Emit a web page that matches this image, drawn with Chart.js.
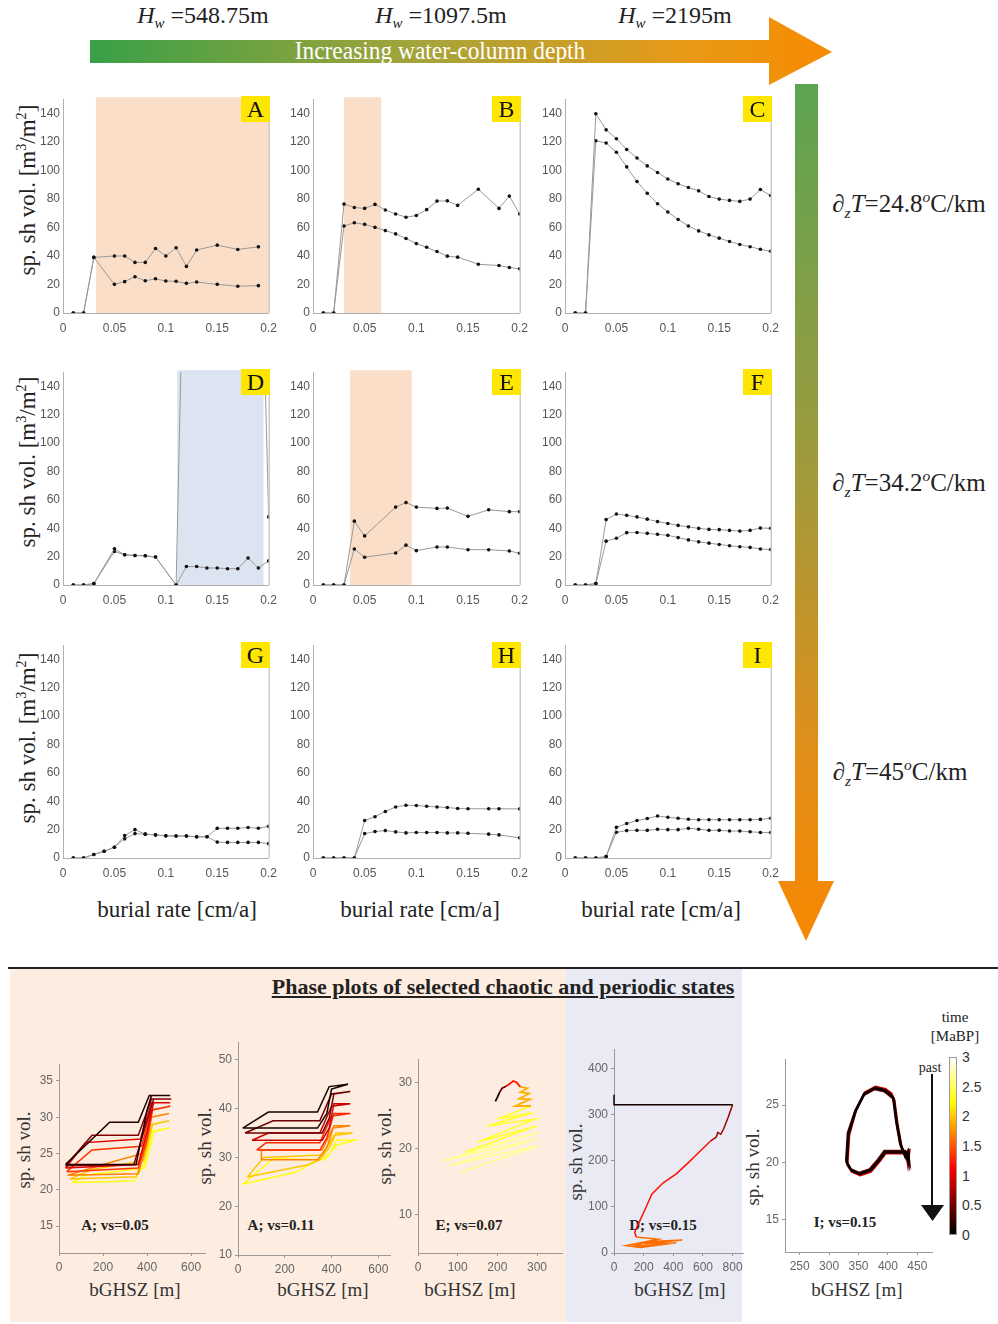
<!DOCTYPE html>
<html>
<head>
<meta charset="utf-8">
<script src="https://cdn.jsdelivr.net/npm/chart.js@4"></script>
<style>
  body { margin: 0; background: #fff; }
  #page { position: relative; width: 998px; height: 1324px; overflow: hidden; background: #fff; }
  canvas { position: absolute; }
  .t { position: absolute; transform: translate(-50%, -50%); white-space: nowrap; font-family: "Liberation Serif", serif; color: #222; }
  .big { font-size: 23px; }
  .rot { transform: translate(-50%, -50%) rotate(-90deg); }
  .lbl { position: absolute; width: 29px; height: 26px; background: #ffe600; font: 24px "Liberation Serif", serif; color: #111; text-align: center; line-height: 27px; }
  .ann { font-weight: bold; font-size: 15px; color: #222; }
  .ph { font-size: 19px; color: #333; }
  .cb { position: absolute; font: 14px "Liberation Sans", sans-serif; color: #333; transform: translateY(-50%); }
  sub, sup { font-size: 62%; }
</style>
</head>
<body>
<div id="page">
  <!-- top arrow -->
  <div style="position:absolute;left:90px;top:17px;width:742px;height:68px;
       clip-path:polygon(0 23px,679px 23px,679px 0,742px 35px,679px 68px,679px 46px,0 46px);
       background:linear-gradient(to right,#38a048 0%,#a7a43a 45%,#e79a18 80%,#f78a00 100%);"></div>
  <div class="t" style="left:440px;top:51px;font-size:26px;color:#fff;transform:translate(-50%,-50%) scaleX(0.9);">Increasing water-column depth</div>
  <div class="t" style="left:203px;top:17px;font-size:24px;"><i>H</i><sub><i>w</i></sub>&nbsp;=548.75m</div>
  <div class="t" style="left:441px;top:17px;font-size:24px;"><i>H</i><sub><i>w</i></sub>&nbsp;=1097.5m</div>
  <div class="t" style="left:675px;top:17px;font-size:24px;"><i>H</i><sub><i>w</i></sub>&nbsp;=2195m</div>

  <!-- right arrow -->
  <div style="position:absolute;left:778px;top:84px;width:56px;height:857px;
       clip-path:polygon(17px 0,40px 0,40px 797px,56px 797px,28px 857px,0 797px,17px 797px);
       background:linear-gradient(to bottom,#5ca452 0%,#a09a3c 45%,#e48e18 80%,#f78800 100%);"></div>
  <div class="t" style="left:909px;top:205px;font-size:25px;"><i>∂</i><sub><i>z</i></sub><i>T</i>=24.8<sup><i>o</i></sup>C/km</div>
  <div class="t" style="left:909px;top:484px;font-size:25px;"><i>∂</i><sub><i>z</i></sub><i>T</i>=34.2<sup><i>o</i></sup>C/km</div>
  <div class="t" style="left:900px;top:773px;font-size:25px;"><i>∂</i><sub><i>z</i></sub><i>T</i>=45<sup><i>o</i></sup>C/km</div>

  <!-- axis titles of grid -->
  <div class="t big rot" style="left:27px;top:190px;">sp. sh vol. [m<sup>3</sup>/m<sup>2</sup>]</div>
  <div class="t big rot" style="left:27px;top:462px;">sp. sh vol. [m<sup>3</sup>/m<sup>2</sup>]</div>
  <div class="t big rot" style="left:27px;top:738px;">sp. sh vol. [m<sup>3</sup>/m<sup>2</sup>]</div>
  <div class="t big" style="left:177px;top:910px;">burial rate [cm/a]</div>
  <div class="t big" style="left:420px;top:910px;">burial rate [cm/a]</div>
  <div class="t big" style="left:661px;top:910px;">burial rate [cm/a]</div>

  <!-- bottom section -->
  <div style="position:absolute;left:10px;top:969px;width:556px;height:353px;background:#fdece0;"></div>
  <div style="position:absolute;left:566px;top:969px;width:176px;height:353px;background:#e9eaf3;"></div>
  <div style="position:absolute;left:8px;top:967px;width:990px;height:2px;background:#222;"></div>
  <div class="t" style="left:503px;top:987px;font-size:22px;font-weight:bold;text-decoration:underline;">Phase plots of selected chaotic and periodic states</div>

  <div class="t ph rot" style="left:24px;top:1150px;">sp. sh vol.</div>
  <div class="t ph rot" style="left:205px;top:1146px;">sp. sh vol.</div>
  <div class="t ph rot" style="left:385px;top:1146px;">sp. sh vol.</div>
  <div class="t ph rot" style="left:576px;top:1162px;">sp. sh vol.</div>
  <div class="t ph rot" style="left:753px;top:1167px;">sp. sh vol.</div>
  <div class="t ph" style="left:135px;top:1290px;">bGHSZ [m]</div>
  <div class="t ph" style="left:323px;top:1290px;">bGHSZ [m]</div>
  <div class="t ph" style="left:470px;top:1290px;">bGHSZ [m]</div>
  <div class="t ph" style="left:680px;top:1290px;">bGHSZ [m]</div>
  <div class="t ph" style="left:857px;top:1290px;">bGHSZ [m]</div>

  <div class="t ann" style="left:115px;top:1225px;">A; vs=0.05</div>
  <div class="t ann" style="left:281px;top:1225px;">A; vs=0.11</div>
  <div class="t ann" style="left:469px;top:1225px;">E; vs=0.07</div>
  <div class="t ann" style="left:663px;top:1225px;">D; vs=0.15</div>
  <div class="t ann" style="left:845px;top:1222px;">I; vs=0.15</div>

  <!-- colour bar -->
  <div class="t" style="left:955px;top:1017px;font-size:15px;">time</div>
  <div class="t" style="left:955px;top:1036px;font-size:15px;">[MaBP]</div>
  <div class="t" style="left:930px;top:1068px;font-size:14px;">past</div>
  <div style="position:absolute;left:931px;top:1074px;width:2px;height:134px;background:#111;"></div>
  <div style="position:absolute;left:921px;top:1205px;width:23px;height:16px;background:#111;clip-path:polygon(0 0,100% 0,50% 100%);"></div>
  <div style="position:absolute;left:949px;top:1057px;width:8px;height:178px;border:1px solid #999;box-sizing:border-box;
       background:linear-gradient(to top,#000 0%,#f00 37.5%,#ff0 75%,#fff 100%);"></div>
  <div id="cbticks"></div>

  <canvas id="pA"></canvas><canvas id="pB"></canvas><canvas id="pC"></canvas>
  <canvas id="pD"></canvas><canvas id="pE"></canvas><canvas id="pF"></canvas>
  <canvas id="pG"></canvas><canvas id="pH"></canvas><canvas id="pI"></canvas>
  <canvas id="ph1"></canvas><canvas id="ph2"></canvas><canvas id="ph3"></canvas>
  <canvas id="ph4"></canvas><canvas id="ph5"></canvas>
</div>

<script>
// burial rates [cm/a]
const xs = [0.01,0.02,0.03,0.04,0.05,0.06,0.07,0.08,0.09,0.1,0.11,0.12,0.13,0.14,0.15,0.16,0.17,0.18,0.19,0.2];
const xTickVals = [0, 0.05, 0.1, 0.15, 0.2];
const yTickVals = [0, 20, 40, 60, 80, 100, 120, 140];

// sp. sh vol. [m3/m2], upper and lower branch for each panel
const A_up = [0,0,39,null,40,40,35.5,35.5,45.3,40,45.8,32.7,44.2,null,47.6,null,44.6,null,46.4,null];
const A_lo = [0,0,39,null,20.1,22,25.4,22.6,24,22.4,22.2,20.8,21.7,null,20.1,null,18.8,null,19.2,null];
const B_up = [0,0,76.4,74,73.4,76.2,72.3,69.5,67.2,68.4,72.5,78.5,78.7,75.5,null,86.8,null,73.4,82,69.5];
const B_lo = [0,0,61,63.3,62.2,60.1,57.8,55.5,52.3,48.7,46.1,43.1,39.9,39.2,null,34.2,null,33.3,31.9,31];
const C_up = [0,0,139.8,128.5,122.3,114.7,108.7,103.2,98.6,94,90.7,88,85.7,81.7,79.9,79,78.3,79.9,86.6,82.4];
const C_lo = [0,0,120.9,119.3,112.8,102.5,92.3,84,76.7,70.9,65.6,61,57.6,54.8,52.5,50.2,48.1,46.5,44.7,43.3];
const D_up = [0,0,1,null,25.5,21.3,20.8,20.6,19.7,null,0,330,330,330,330,330,330,330,330,48];
const D_lo = [0,0,1,null,23.6,21.3,20.8,20.6,19.7,null,0,13,13,12,12,11.5,11.5,19,12,17];
const E_up = [0,0,0,45,34.6,null,null,54.9,58.1,54.9,null,54,54.2,null,48.4,null,53,null,51.7,51.7];
const E_lo = [0,0,0,25.4,19.6,null,null,22.6,28.1,24.2,null,26.8,26.8,null,24.9,null,24.9,null,24,22.4];
const F_up = [0,0,1,46.1,50,49.1,48,46.4,44.7,43.4,42,41,39.9,39.2,39,38.5,38,38.5,40.1,40];
const F_lo = [0,0,1,30.9,33,36.9,37,36.4,35.7,35,33.4,31.8,30.4,29.5,28.6,27.7,27,26.5,25.4,25];
const G_up = [0,0,2.5,4.8,7.6,15.8,20,16.8,16.3,15.6,15.5,15.5,14.9,15,20.9,21,21,21.5,21,22.3];
const G_lo = [0,0,2.5,4.8,7.6,13.5,17.2,16.8,16.3,15.6,15.5,15.5,14.9,15,11.2,11,11,11,11,10.1];
const H_up = [0,0,0,0,26.4,29.1,32.8,36,37.2,37,36.5,36,35.6,34.9,34.7,null,34.7,34.7,null,34.6];
const H_lo = [0,0,0,0,17.2,18.6,19.3,18.4,17.7,18,18,18,17.7,17.7,17.4,null,16.8,16.3,null,14.2];
const I_up = [0,0,0,1,21.6,24.3,26.4,27.8,29.6,28.7,28,27.3,27,27,27,27,27,27,27.2,28];
const I_lo = [0,0,0,1,18.1,19.3,19.5,19.5,20.2,20,20,20.9,20.3,19.5,19.5,19,19,18.5,18,18];

// shaded burial-rate ranges
const A_shade = [0.032, 0.2];
const B_shade = [0.030, 0.066];
const D_shade = [0.111, 0.195];
const E_shade = [0.036, 0.0955];

// phase plots: strokes of [bGHSZ, sp. sh vol.] with time t [MaBP]
const phaseA05 = [
  {t: 2.3, pts: [[60,21],[340,21.2],[395,24],[420,28],[500,28.5],[430,28],[390,23],[120,22],[60,21]]},
  {t: 2.0, pts: [[50,21.5],[350,21.8],[390,25],[420,29],[500,29.5],[425,29],[385,24],[150,22.8],[50,21.5]]},
  {t: 1.7, pts: [[40,22],[360,22.2],[395,26],[420,30],[500,30.5],[420,30],[380,25],[200,23.5],[40,22]]},
  {t: 1.35, pts: [[35,22.5],[360,23],[400,27],[425,31],[505,31.5],[420,31],[375,26],[150,25.5],[35,22.5]]},
  {t: 1.0, pts: [[30,23],[360,23.5],[400,28],[430,32],[505,32],[420,32],[370,27],[120,26.5],[30,23]]},
  {t: 0.6, pts: [[30,23.3],[340,23.5],[395,29],[430,32.5],[510,32.5],[420,32.5],[360,27.5],[150,27.5],[30,23.3]]},
  {t: 0.15, pts: [[30,23.5],[350,23.5],[400,31],[420,33],[505,33],[410,33],[360,29.3],[230,29.3],[30,23.5]]}
];
const phaseA11 = [
  {t: 2.3, pts: [[20,24.5],[250,27],[340,29.5],[390,30.5],[420,33.5],[500,33.5],[420,32.5],[370,29.5],[150,29.7],[20,24.5]]},
  {t: 2.0, pts: [[40,26],[300,28.5],[350,29.5],[390,32],[420,35],[490,35],[410,34.5],[360,30.5],[110,30],[40,26]]},
  {t: 1.7, pts: [[100,29.5],[340,29.5],[380,32],[410,36.5],[480,36.5],[405,36],[360,31.5],[100,31.5],[100,29.5]]},
  {t: 1.3, pts: [[80,31.5],[350,31.5],[380,34],[410,39],[480,39],[400,38.5],[350,33],[120,33],[80,31.5]]},
  {t: 0.9, pts: [[60,33.5],[360,33.5],[390,36],[410,41],[480,41],[400,40.5],[350,35],[130,35],[60,33.5]]},
  {t: 0.5, pts: [[30,35],[360,35],[390,38],[410,43],[480,43.5],[400,43],[350,37.5],[150,37.5],[30,35]]},
  {t: 0.1, pts: [[20,36],[340,36],[380,39],[400,44],[470,45],[390,44.5],[340,39.3],[130,39.3],[20,36]]}
];
const phaseE07 = [
  {t: 2.7, pts: [[110,16.5],[305,20.5],[80,17.5],[300,21.5],[65,18.2],[305,22.5],[120,19.5]]},
  {t: 2.4, pts: [[120,19.5],[300,23.5],[150,21],[295,24.5],[175,23.5],[290,25.5],[200,24.5],[285,26.5]]},
  {t: 1.9, pts: [[285,26.5],[245,26.5],[282,27.5],[255,27.6],[280,28.4],[258,28.6],[276,29.2],[258,29.4]]},
  {t: 1.2, pts: [[258,29.4],[248,30.1],[240,30.3],[232,29.9],[222,29.5]]},
  {t: 0.5, pts: [[222,29.5],[212,29.2],[206,28.6]]},
  {t: 0.1, pts: [[206,28.6],[200,27.8],[195,27.2]]}
];
const phaseD15 = [
  {t: 1.6, pts: [[300,18],[120,14],[250,25],[460,28],[200,20],[420,22],[180,12],[80,16],[300,30],[150,35]]},
  {t: 1.2, pts: [[150,35],[140,45],[160,60],[210,95],[255,128],[330,152],[420,172],[500,196],[580,221],[650,243]]},
  {t: 0.7, pts: [[650,243],[690,252],[700,262],[720,258],[740,270],[770,295],[800,322]]},
  {t: 0.1, pts: [[800,322],[0,322],[0,344]]}
];
const phaseI15 = [
  {t: 0.9, pts: [[331,19.8],[334,22.4],[346,24.6],[361,26.1],[379,26.6],[396,26.4],[406,26],[411,25.4],[416,23.4],[423,21.4],[431,20.4],[436,20.8],[434,19.9],[431,20.8],[396,20.8],[386,20.1],[371,19.2],[353,18.9],[339,19.2],[331,19.8]]},
  {t: 0.4, pts: [[329,20.1],[332,22.6],[344,24.4],[359,25.9],[377,26.4],[394,26.2],[404,25.8],[409,25.6],[414,23.6],[421,21.6],[429,20.6],[434,21],[436,20.1],[429,21],[394,21],[384,20.3],[369,19.4],[351,19.1],[337,19.4],[329,20.1]]},
  {t: 0.05, pts: [[330,20],[333,22.5],[345,24.5],[360,26],[378,26.5],[395,26.3],[405,25.9],[410,25.5],[415,23.5],[422,21.5],[430,20.5],[435,20.9],[435,20],[430,20.9],[395,20.9],[385,20.2],[370,19.3],[352,19],[338,19.3],[330,20]]}
];
const cbTicks = [3, 2.5, 2, 1.5, 1, 0.5, 0];

function hot(t) {
  const v = Math.max(0, Math.min(1, t / 3));
  const r = Math.min(1, v / 0.375);
  const g = Math.max(0, Math.min(1, (v - 0.375) / 0.375));
  const b = Math.max(0, (v - 0.75) / 0.25);
  return `rgb(${Math.round(r * 255)},${Math.round(g * 255)},${Math.round(b * 255)})`;
}

const shadePlugin = {
  id: "shade",
  beforeDraw(chart, args, opts) {
    if (!opts.range) return;
    const { ctx, chartArea } = chart;
    const xsc = chart.scales.x;
    const x0 = xsc.getPixelForValue(opts.range[0]);
    const x1 = xsc.getPixelForValue(opts.range[1]);
    ctx.save();
    ctx.fillStyle = opts.color;
    ctx.fillRect(x0, chartArea.top - 2, x1 - x0, chartArea.bottom - chartArea.top + 2);
    ctx.restore();
  },
  afterDatasetsDraw(chart, args, opts) {
    if (!opts.frame) return;
    const { ctx, chartArea } = chart;
    ctx.save();
    ctx.strokeStyle = "#b0b0b0";
    ctx.lineWidth = 1;
    ctx.beginPath();
    ctx.moveTo(chartArea.right + 0.5, chartArea.top);
    ctx.lineTo(chartArea.right + 0.5, chartArea.bottom);
    ctx.stroke();
    ctx.restore();
  }
};

const fmt = v => String(Number(v.toFixed(2)));

function place(cv, left, top, w, h, YW, XH, PT, PR) {
  cv.width = w + YW + PR;
  cv.height = h + PT + XH;
  cv.style.left = (left - YW) + "px";
  cv.style.top = (top - PT) + "px";
}

function panel(id, letter, left, top, w, h, up, lo, shade, shadeColor) {
  const cv = document.getElementById(id);
  place(cv, left, top, w, h, 34, 24, 6, 14);
  const mk = arr => ({
    data: xs.map((x, i) => ({ x: x, y: arr[i] })),
    borderColor: "#999", borderWidth: 1,
    pointRadius: 1.8, pointBackgroundColor: "#111", pointBorderWidth: 0,
    spanGaps: true, tension: 0
  });
  new Chart(cv, {
    type: "line",
    data: { datasets: [mk(up), mk(lo)] },
    options: {
      responsive: false, animation: false,
      layout: { padding: { top: 6, right: 14, left: 0, bottom: 0 } },
      plugins: { legend: { display: false }, tooltip: { enabled: false },
        shade: { range: shade, color: shadeColor, frame: true } },
      scales: {
        x: { type: "linear", min: 0, max: 0.2,
          afterBuildTicks: s => { s.ticks = xTickVals.map(v => ({ value: v })); },
          afterFit: s => { s.height = 24; },
          grid: { display: true, drawOnChartArea: false, drawTicks: false },
          border: { color: "#b0b0b0" },
          ticks: { padding: 8, color: "#555", font: { family: "Liberation Sans", size: 12 }, callback: v => fmt(v), maxRotation: 0 } },
        y: { min: 0, max: 150,
          afterBuildTicks: s => { s.ticks = yTickVals.map(v => ({ value: v })); },
          afterFit: s => { s.width = 34; },
          grid: { display: true, drawOnChartArea: false, drawTicks: false },
          border: { color: "#b0b0b0" },
          ticks: { padding: 3, color: "#555", font: { family: "Liberation Sans", size: 12 } } }
      }
    },
    plugins: [shadePlugin]
  });
  const d = document.createElement("div");
  d.className = "lbl";
  d.textContent = letter;
  d.style.left = (left + w - 30) + "px";
  d.style.top = (top + 1) + "px";
  document.getElementById("page").appendChild(d);
}

function phase(id, left, top, w, h, strokes, xr, yr, xt, yt, lw) {
  const cv = document.getElementById(id);
  place(cv, left, top, w, h, 30, 22, 8, 14);
  new Chart(cv, {
    type: "scatter",
    data: { datasets: strokes.map(s => ({
      data: s.pts.map(p => ({ x: p[0], y: p[1] })),
      showLine: true, borderColor: hot(s.t), borderWidth: lw,
      pointRadius: 0, tension: 0, order: s.t, clip: 4
    })) },
    options: {
      responsive: false, animation: false,
      layout: { padding: { top: 8, right: 14, left: 0, bottom: 0 } },
      plugins: { legend: { display: false }, tooltip: { enabled: false } },
      scales: {
        x: { type: "linear", min: xr[0], max: xr[1],
          afterBuildTicks: s => { s.ticks = xt.map(v => ({ value: v })); },
          afterFit: s => { s.height = 22; },
          grid: { display: true, drawOnChartArea: false, drawTicks: true, tickLength: 3, color: "#999" },
          border: { color: "#999" },
          ticks: { padding: 4, color: "#666", font: { family: "Liberation Sans", size: 12 }, maxRotation: 0 } },
        y: { type: "linear", min: yr[0], max: yr[1],
          afterBuildTicks: s => { s.ticks = yt.map(v => ({ value: v })); },
          afterFit: s => { s.width = 30; },
          grid: { display: true, drawOnChartArea: false, drawTicks: true, tickLength: 3, color: "#999" },
          border: { color: "#999" },
          ticks: { padding: 3, color: "#666", font: { family: "Liberation Sans", size: 12 } } }
      }
    }
  });
}

const cols = [63, 313, 565], widths = [208, 209, 208];
const rows = [95, 368, 641], heights = [218, 217, 217];
const peach = "#fbdec8", blue = "#dde4f1";

panel("pA", "A", cols[0], rows[0], widths[0], heights[0], A_up, A_lo, A_shade, peach);
panel("pB", "B", cols[1], rows[0], widths[1], heights[0], B_up, B_lo, B_shade, peach);
panel("pC", "C", cols[2], rows[0], widths[2], heights[0], C_up, C_lo, null, null);
panel("pD", "D", cols[0], rows[1], widths[0], heights[1], D_up, D_lo, D_shade, blue);
panel("pE", "E", cols[1], rows[1], widths[1], heights[1], E_up, E_lo, E_shade, peach);
panel("pF", "F", cols[2], rows[1], widths[2], heights[1], F_up, F_lo, null, null);
panel("pG", "G", cols[0], rows[2], widths[0], heights[2], G_up, G_lo, null, null);
panel("pH", "H", cols[1], rows[2], widths[1], heights[2], H_up, H_lo, null, null);
panel("pI", "I", cols[2], rows[2], widths[2], heights[2], I_up, I_lo, null, null);

phase("ph1", 59, 1062, 146, 191, phaseA05, [0, 663], [11.3, 37.3], [0, 200, 400, 600], [15, 20, 25, 30, 35], 1.5);
phase("ph2", 238, 1040, 152, 215, phaseA11, [0, 650], [10, 53.6], [0, 200, 400, 600], [10, 20, 30, 40, 50], 1.5);
phase("ph3", 418, 1057, 144, 196, phaseE07, [0, 363], [4.2, 33.6], [0, 100, 200, 300], [10, 20, 30], 1.8);
phase("ph4", 614, 1047, 129, 206, phaseD15, [0, 870], [0, 443], [0, 200, 400, 600, 800], [0, 100, 200, 300, 400], 1.5);
phase("ph5", 785, 1057, 147, 195, phaseI15, [225, 475], [12.2, 29], [250, 300, 350, 400, 450], [15, 20, 25], 2.5);

// colour bar tick labels
const cbBox = document.getElementById("cbticks");
cbTicks.forEach(v => {
  const d = document.createElement("div");
  d.className = "cb";
  d.textContent = String(v);
  d.style.left = "962px";
  d.style.top = (1235 - v / 3 * 178) + "px";
  cbBox.appendChild(d);
});
</script>
</body>
</html>
